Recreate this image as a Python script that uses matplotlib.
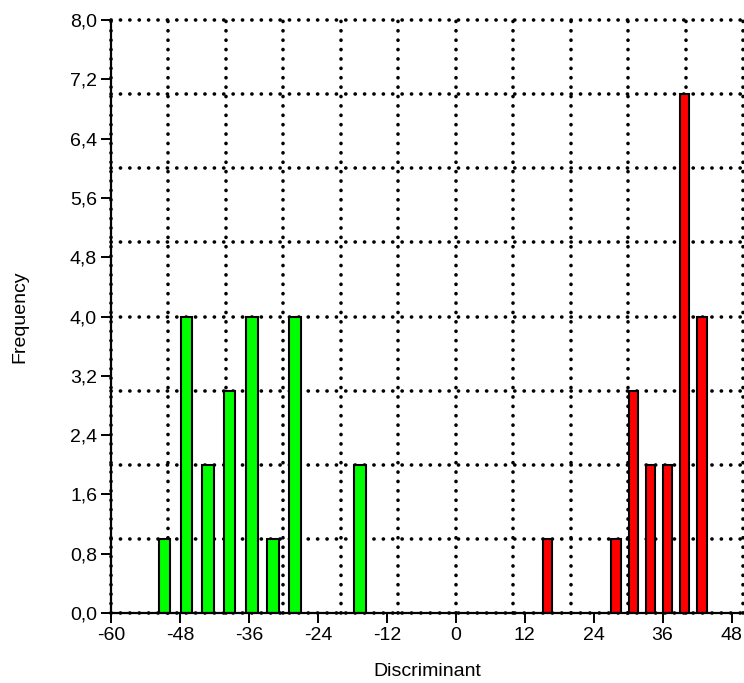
import numpy as np
import matplotlib
matplotlib.use("Agg")
import matplotlib.pyplot as plt
from matplotlib.ticker import FuncFormatter

# bar centres / counts
green_centers = [-50.65, -46.85, -43.1, -39.35, -35.5, -31.8, -28.0, -16.65]
green_counts = [1, 4, 2, 3, 4, 1, 4, 2]
red_centers = [15.9, 27.9, 30.9, 33.9, 36.85, 39.85, 42.85]
red_counts = [1, 1, 3, 2, 2, 7, 4]

x_ticks = np.arange(-60, 49, 12)
y_ticks = np.arange(0, 8.01, 0.8)
x_grid = np.arange(-60, 51, 10)
y_grid = np.arange(0, 9, 1)

plt.rcParams['font.family'] = ['Liberation Sans', 'DejaVu Sans']
plt.rcParams['axes.unicode_minus'] = False

fig = plt.figure(figsize=(7.44, 6.83), dpi=100)
ax = fig.add_axes([0.1492, 0.1025, 0.8495, 0.8682])

ax.bar(green_centers, green_counts, width=2.0, color="#00ff00", edgecolor="black", linewidth=1.5, zorder=3)
ax.bar(red_centers, red_counts, width=1.6, color="#ff0000", edgecolor="black", linewidth=1.5, zorder=3)

ax.set_xlim(-60, 50)
ax.set_ylim(0, 8)

# dotted grid on its own positions
dot = dict(color="black", linewidth=2.6, linestyle=(0, (0.05, 2.55)),
           dash_capstyle="round", zorder=1, clip_on=False)
for gx in x_grid:
    ax.axvline(gx, **dot)
for gy in y_grid:
    ax.axhline(gy, **dot)

ax.set_xticks(x_ticks)
ax.set_yticks(y_ticks)
ax.yaxis.set_major_formatter(FuncFormatter(lambda v, p: ("%.1f" % v).replace(".", ",")))
ax.tick_params(direction="out", length=7, width=1.4, labelsize=14, colors="black", pad=3)

for s in ["top", "right"]:
    ax.spines[s].set_visible(False)
for s in ["left", "bottom"]:
    ax.spines[s].set_linewidth(1.6)
    ax.spines[s].set_zorder(4)

ax.set_xlabel("Discriminant", fontsize=14, labelpad=14)
ax.set_ylabel("Frequency", fontsize=14, labelpad=30)

fig.savefig("out.png", dpi=100)
